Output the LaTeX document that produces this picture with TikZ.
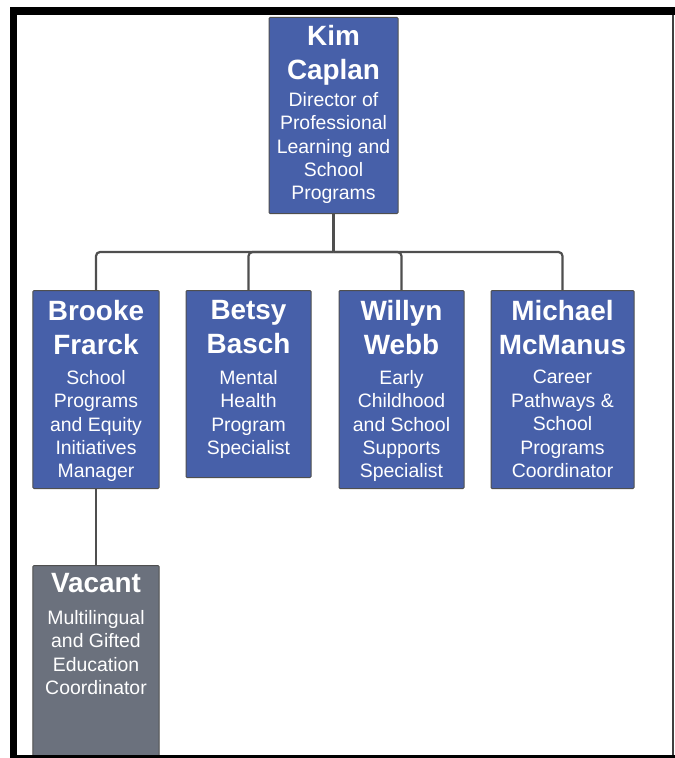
\documentclass[tikz,border=0pt]{standalone}
\usepackage{fontspec}
\setmainfont{Liberation Sans}
\usepackage{tikz}
\usetikzlibrary{positioning}

\definecolor{staffblue}{HTML}{4760A9}
\definecolor{vacantgray}{HTML}{6B717D}
\definecolor{linegray}{HTML}{4F4F4F}

\tikzset{
  staff/.style={draw=linegray,line width=1bp,fill=staffblue,anchor=north,inner sep=0pt,rounded corners=1bp},
  vacant/.style={staff,fill=vacantgray},
  who/.style={anchor=north,inner sep=0pt,text=white,align=center,font=\fontsize{28}{34}\selectfont\bfseries},
  role/.style={anchor=north,inner sep=0pt,text=white,align=center,font=\fontsize{19.5}{23.5}\selectfont},
  link/.style={draw=linegray,line width=2.2bp,rounded corners=4bp}
}

\begin{document}
\begin{tikzpicture}[x=1bp,y=-1bp]
    \useasboundingbox (0,0) rectangle (675,758);

    \node [staff,minimum width=129bp,minimum height=196bp] (kim) at (333.5,17) {};
    \node [staff,minimum width=126bp,minimum height=198bp] (brooke) at (96,290) {};
    \node [staff,minimum width=125bp,minimum height=187bp] (betsy) at (248.5,290) {};
    \node [staff,minimum width=125bp,minimum height=198bp] (willyn) at (401.5,290) {};
    \node [staff,minimum width=143bp,minimum height=198bp] (michael) at (562.5,290) {};
    \node [vacant,minimum width=126bp,minimum height=192bp] (vac) at (96,565) {};

    \node [who,below=8bp of kim.north] (kimname) {Kim\\Caplan};
    \node [role,below=75bp of kim.north] (kimrole) {Director of\\Professional\\Learning and\\School\\Programs};
    \node [who,below=10bp of brooke.north] (brookename) {Brooke\\Frarck};
    \node [role,below=80bp of brooke.north] (brookerole) {School\\Programs\\and Equity\\Initiatives\\Manager};
    \node [who,below=10bp of betsy.north] (betsyname) {Betsy\\Basch};
    \node [role,below=80bp of betsy.north] (betsyrole) {Mental\\Health\\Program\\Specialist};
    \node [who,below=10bp of willyn.north] (willynname) {Willyn\\Webb};
    \node [role,below=80bp of willyn.north] (willynrole) {Early\\Childhood\\and School\\Supports\\Specialist};
    \node [who,below=10bp of michael.north] (michaelname) {Michael\\McManus};
    \node [role,below=80bp of michael.north] (michaelrole) {Career\\Pathways \&\\School\\Programs\\Coordinator};
    \node [who,below=8bp of vac.north] (vacname) {Vacant};
    \node [role,below=45bp of vac.north] (vacrole) {Multilingual\\and Gifted\\Education\\Coordinator};

    \coordinate (bus) at (333.5,252);
    \draw [link] (kim.south) -- (bus);
    \foreach \n in {brooke,betsy,willyn,michael}
    {
      \draw [link] (bus) -| (\n.north);
    }
    \draw [link] (brooke.south) -- (vac.north);

    \fill (10,7) rectangle (675,15);
    \fill (10,7) rectangle (17,758);
    \fill (10,755) rectangle (675,758);
    \fill [black!75] (672,15) rectangle (674,755);
  \end{tikzpicture}
\end{document}
